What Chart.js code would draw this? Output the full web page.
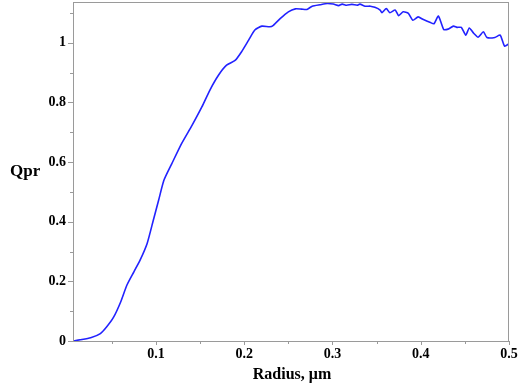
<!DOCTYPE html>
<html>
<head>
<meta charset="utf-8">
<script src="https://cdn.jsdelivr.net/npm/chart.js@4.4.1/dist/chart.umd.min.js"></script>
<style>
  html, body { margin: 0; padding: 0; background: #fff; }
  canvas { display: block; }
</style>
</head>
<body>
<canvas id="chart" width="518" height="387"></canvas>
<script>
// values
const radius = [0.006, 0.014, 0.026, 0.037, 0.044, 0.052, 0.060, 0.067, 0.075, 0.082, 0.090, 0.097,
  0.103, 0.109, 0.118, 0.129, 0.141, 0.152, 0.161, 0.171, 0.180, 0.190, 0.197, 0.205, 0.212,
  0.220, 0.229, 0.233, 0.241, 0.250, 0.258, 0.265, 0.271, 0.277, 0.286, 0.294, 0.301, 0.307,
  0.311, 0.316, 0.322, 0.328, 0.331, 0.337, 0.343, 0.348, 0.354, 0.356, 0.361, 0.365, 0.371,
  0.375, 0.380, 0.386, 0.391, 0.397, 0.403, 0.411, 0.415, 0.420, 0.426, 0.431, 0.437, 0.441,
  0.446, 0.451, 0.455, 0.460, 0.465, 0.471, 0.475, 0.484, 0.490, 0.495, 0.500];
const qpr = [0.0, 0.004, 0.011, 0.025, 0.047, 0.080, 0.131, 0.187, 0.232, 0.271, 0.327, 0.405,
  0.472, 0.539, 0.595, 0.662, 0.724, 0.785, 0.841, 0.892, 0.925, 0.942, 0.970, 1.009, 1.043,
  1.056, 1.054, 1.059, 1.082, 1.104, 1.114, 1.113, 1.112, 1.123, 1.128, 1.132, 1.130, 1.125,
  1.130, 1.126, 1.129, 1.126, 1.130, 1.123, 1.123, 1.119, 1.110, 1.101, 1.115, 1.101, 1.110,
  1.091, 1.104, 1.099, 1.076, 1.087, 1.078, 1.068, 1.064, 1.090, 1.045, 1.046, 1.056, 1.052,
  1.052, 1.026, 1.050, 1.032, 1.019, 1.037, 1.018, 1.018, 1.026, 0.989, 0.997];

const xTicks = [0.1, 0.2, 0.3, 0.4, 0.5];
const xMinor = [0.05, 0.15, 0.25, 0.35, 0.45];
const yTicks = [0, 0.2, 0.4, 0.6, 0.8, 1];
const yMinor = [0.1, 0.3, 0.5, 0.7, 0.9, 1.1];

const axisColor = "#9a9a9a";
const labelFont = { family: "'Liberation Serif', 'Times New Roman', serif", size: 14, weight: "bold" };

// frame, tick marks and axis titles
const framePlugin = {
  id: "frame",
  afterDraw(chart) {
    const { ctx, chartArea: a, scales } = chart;
    ctx.save();
    ctx.strokeStyle = axisColor;
    ctx.lineWidth = 1;
    ctx.strokeRect(a.left + 0.5, a.top + 0.5, a.right - a.left - 1, a.bottom - a.top);
    ctx.beginPath();
    const tick = (vals, len) => {
      vals.forEach(v => {
        const y = Math.round(scales.y.getPixelForValue(v)) + 0.5;
        ctx.moveTo(a.left - len, y); ctx.lineTo(a.left, y);
      });
    };
    const tickX = (vals, len) => {
      vals.forEach(v => {
        const x = Math.round(scales.x.getPixelForValue(v)) + 0.5;
        ctx.moveTo(x, a.bottom); ctx.lineTo(x, a.bottom + len);
      });
    };
    tick(yTicks, 5); tick(yMinor, 3);
    tickX(xTicks, 4); tickX(xMinor, 3);
    ctx.stroke();

    ctx.fillStyle = "#000";
    ctx.textBaseline = "alphabetic";
    ctx.font = "bold 17px 'Liberation Serif', 'Times New Roman', serif";
    ctx.textAlign = "left";
    ctx.fillText("Qpr", 10, 176);
    ctx.font = "bold 16px 'Liberation Serif', 'Times New Roman', serif";
    ctx.textAlign = "center";
    ctx.fillText("Radius, μm", (a.left + a.right) / 2 + 1, 379);
    ctx.restore();
  }
};

new Chart(document.getElementById("chart"), {
  type: "scatter",
  data: {
    datasets: [{
      data: radius.map((r, i) => ({ x: r, y: qpr[i] })),
      showLine: true,
      borderColor: "#2222ff",
      borderWidth: 1.6,
      pointRadius: 0,
      tension: 0.2
    }]
  },
  options: {
    responsive: false,
    animation: false,
    layout: { padding: { left: 0, top: 2, right: 9, bottom: 0 } },
    plugins: { legend: { display: false }, tooltip: { enabled: false } },
    scales: {
      x: {
        type: "linear",
        min: 0.006,
        max: 0.5,
        afterBuildTicks: s => { s.ticks = xTicks.map(v => ({ value: v })); },
        afterFit: s => { s.height = 46; s.paddingLeft = 0; s.paddingRight = 0; },
        grid: { display: false, drawTicks: false },
        border: { display: false },
        ticks: { autoSkip: false, maxRotation: 0, padding: 5, color: "#000", font: labelFont,
                 callback: v => String(v) }
      },
      y: {
        type: "linear",
        min: 0,
        max: 1.137,
        afterBuildTicks: s => { s.ticks = yTicks.map(v => ({ value: v })); },
        afterFit: s => { s.width = 73; s.paddingTop = 0; s.paddingBottom = 0; },
        grid: { display: false, drawTicks: false },
        border: { display: false },
        ticks: { padding: 7, color: "#000", font: labelFont, callback: v => String(v) }
      }
    }
  },
  plugins: [framePlugin]
});
</script>
</body>
</html>
